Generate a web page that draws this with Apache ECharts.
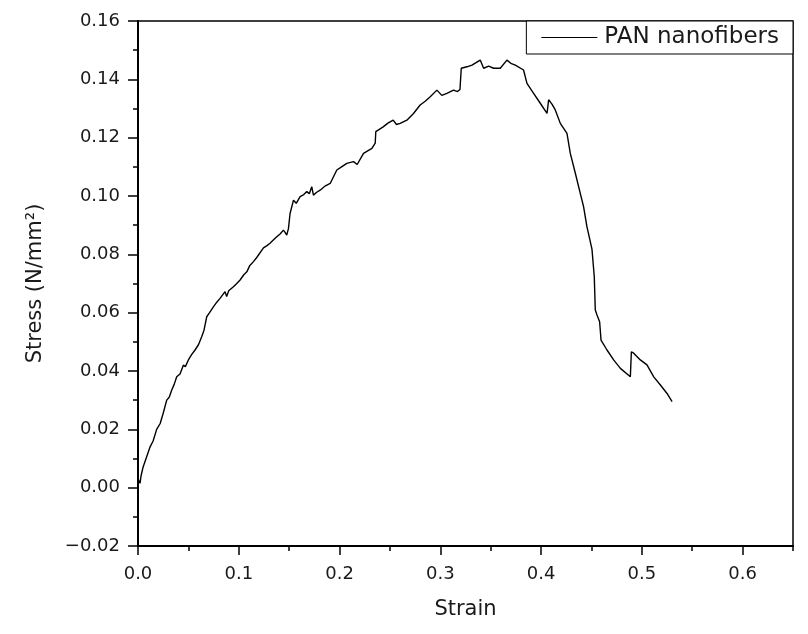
<!DOCTYPE html>
<html>
<head>
<meta charset="utf-8">
<script src="https://cdn.jsdelivr.net/npm/echarts@6/dist/echarts.min.js"></script>
<style>
  html, body { margin: 0; padding: 0; background: #fff; }
  #chart { width: 808px; height: 634px; }
</style>
</head>
<body>
<div id="chart"></div>
<script>
// stress-strain curve
const strain = [
  0.000, 0.002, 0.003, 0.005, 0.008, 0.012, 0.015, 0.0185, 0.022, 0.025,
  0.0285, 0.031, 0.0335, 0.036, 0.0384, 0.0417, 0.045, 0.047, 0.050, 0.053,
  0.0566, 0.060, 0.0633, 0.0655, 0.0682, 0.071, 0.0748, 0.078, 0.0814, 0.0864,
  0.088, 0.090, 0.0947, 0.098, 0.1013, 0.105, 0.108, 0.111, 0.1146, 0.118,
  0.1245, 0.128, 0.131, 0.134, 0.1377, 0.141, 0.1443, 0.146, 0.1476, 0.1493,
  0.1505, 0.1509, 0.1543, 0.157, 0.1609, 0.1645, 0.1675, 0.170, 0.1724, 0.1741,
  0.177, 0.1807, 0.186, 0.1907, 0.1973, 0.202, 0.2072, 0.2139, 0.2175, 0.2238,
  0.2321, 0.2354, 0.236, 0.2433, 0.248, 0.2532, 0.2565, 0.2602, 0.2668, 0.2734,
  0.280, 0.285, 0.290, 0.2966, 0.3015, 0.3065, 0.3131, 0.3171, 0.3195, 0.3208,
  0.3264, 0.3314, 0.3396, 0.343, 0.348, 0.3529, 0.3595, 0.3661, 0.370, 0.3744,
  0.3826, 0.386, 0.3926, 0.3992, 0.4059, 0.4075, 0.4108, 0.4141, 0.4191, 0.4257,
  0.429, 0.434, 0.4389, 0.4422, 0.4455, 0.4505, 0.4528, 0.4538, 0.4555, 0.4581,
  0.4595, 0.4654, 0.472, 0.4787, 0.4886, 0.4896, 0.4919, 0.4985, 0.5051, 0.5118,
  0.5184, 0.525, 0.530
]
const stress = [
  0.003, 0.0015, 0.004, 0.007, 0.010, 0.014, 0.016, 0.020, 0.022, 0.0255,
  0.030, 0.031, 0.0335, 0.0355, 0.038, 0.039, 0.042, 0.0415, 0.0438, 0.0455,
  0.0472, 0.049, 0.0518, 0.054, 0.0586, 0.060, 0.062, 0.0635, 0.0649, 0.0672,
  0.0655, 0.0675, 0.0689, 0.070, 0.0712, 0.073, 0.074, 0.0762, 0.0775, 0.079,
  0.0822, 0.083, 0.0838, 0.0848, 0.086, 0.087, 0.0883, 0.0875, 0.0866, 0.0888,
  0.089, 0.094, 0.0986, 0.0975, 0.0998, 0.1005, 0.1015, 0.1008, 0.1032, 0.1003,
  0.1012, 0.102, 0.1035, 0.1043, 0.1089, 0.110, 0.1112, 0.1118, 0.1108, 0.1146,
  0.1163, 0.1181, 0.1221, 0.1237, 0.125, 0.126, 0.1245, 0.1249, 0.126, 0.1283,
  0.1312, 0.1325, 0.134, 0.1363, 0.1345, 0.1352, 0.1363, 0.1358, 0.1365, 0.1438,
  0.1443, 0.1449, 0.1466, 0.1438, 0.1445, 0.1438, 0.1438, 0.1466, 0.1455, 0.1449,
  0.1432, 0.1386, 0.1352, 0.1318, 0.1283, 0.133, 0.1315, 0.1295, 0.1249, 0.1215,
  0.1146, 0.1078, 0.1009, 0.0963, 0.0895, 0.0818, 0.0723, 0.0609, 0.0592, 0.0569,
  0.0506, 0.0472, 0.0438, 0.0409, 0.038, 0.0466, 0.0461, 0.0438, 0.0421, 0.038,
  0.0352, 0.0323, 0.0295
]

const xMin = 0, xMax = 0.65, xStep = 0.1
const yMin = -0.02, yMax = 0.16, yStep = 0.02
const seriesName = 'PAN nanofibers'

const font = 'DejaVu Sans'
const ink = '#1a1a1a'

const chart = echarts.init(document.getElementById('chart'))

chart.setOption({
  animation: false,
  backgroundColor: '#fff',
  grid: {
    left: 138, right: 15, top: 21, bottom: 88,
    show: true,
    borderColor: '#000',
    borderWidth: 1.5
  },
  legend: {
    data: [seriesName],
    right: 15,
    top: 21,
    padding: [5, 14, 5, 15],
    icon: 'rect',
    itemWidth: 56,
    itemHeight: 1.2,
    itemStyle: { color: '#000' },
    borderColor: '#000',
    borderWidth: 1,
    backgroundColor: '#fff',
    textStyle: { fontFamily: font, fontSize: 23, color: ink, padding: [0, 0, 0, 2] }
  },
  xAxis: [{
    type: 'value',
    min: xMin, max: xMax, interval: xStep,
    position: 'bottom',
    name: 'Strain',
    nameLocation: 'middle',
    nameGap: 53,
    nameTextStyle: { fontFamily: font, fontSize: 21, color: ink },
    axisLine: { onZero: false, lineStyle: { color: '#000', width: 2 } },
    axisTick: { inside: false, length: 9, lineStyle: { color: '#000', width: 1.5 } },
    axisLabel: {
      margin: 19,
      showMaxLabel: false,
      fontFamily: font, fontSize: 18, color: ink,
      formatter: v => v.toFixed(1)
    },
    splitLine: { show: false }
  }, {
    // minor ticks every 0.05
    type: 'value',
    min: xMin, max: xMax, interval: xStep / 2,
    position: 'bottom',
    axisLine: { show: false, onZero: false },
    axisTick: { length: 5, lineStyle: { color: '#000', width: 1.5 } },
    axisLabel: { show: false },
    splitLine: { show: false }
  }],
  yAxis: {
    type: 'value',
    min: yMin, max: yMax, interval: yStep,
    name: 'Stress (N/mm²)',
    nameLocation: 'middle',
    nameGap: 92,
    nameTextStyle: { fontFamily: font, fontSize: 21, color: ink },
    axisLine: { show: true, onZero: false, lineStyle: { color: '#000', width: 2 } },
    axisTick: { show: true, length: 10, lineStyle: { color: '#000', width: 1.5 } },
    minorTick: { show: true, splitNumber: 2, length: 5, lineStyle: { color: '#000', width: 1.5 } },
    axisLabel: {
      margin: 18,
      fontFamily: font, fontSize: 18, color: ink,
      formatter: v => Math.abs(v) < 1e-9 ? '0.00' : (v < 0 ? '\u2212' : '') + Math.abs(v).toFixed(2)
    },
    splitLine: { show: false }
  },
  series: [{
    name: seriesName,
    type: 'line',
    xAxisIndex: 0,
    data: strain.map((s, i) => [s, stress[i]]),
    symbol: 'none',
    lineStyle: { color: '#000', width: 1.4 },
    itemStyle: { color: '#000' }
  }]
})
</script>
</body>
</html>
